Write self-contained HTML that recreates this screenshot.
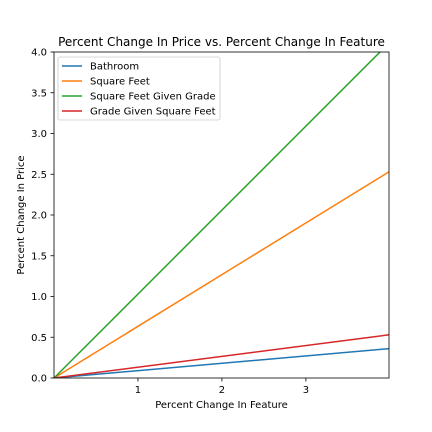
<!DOCTYPE html>
<html><head><meta charset="utf-8"><style>
body{margin:0;background:#fff;}
svg{display:block;font-family:"DejaVu Sans","Liberation Sans",sans-serif;}
</style></head><body>
<svg id="chart" width="432" height="432">
<rect x="0" y="0" width="432" height="432" fill="#fff"/>
<defs><clipPath id="clip"><rect x="54" y="52" width="335" height="326"/></clipPath></defs>
<g id="lines" clip-path="url(#clip)"></g>
<rect x="54" y="52" width="335" height="326" fill="none" stroke="#000" stroke-width="0.8"/>
<g id="xticks"></g><g id="yticks"></g>
<text x="221.5" y="46" font-size="12" text-anchor="middle">Percent Change In Price vs. Percent Change In Feature</text>
<text x="221.5" y="408" font-size="10" text-anchor="middle">Percent Change In Feature</text>
<text x="24" y="215" font-size="10" text-anchor="middle" transform="rotate(-90 24 215)">Percent Change In Price</text>
<g id="legend">
<rect x="58" y="57" width="162" height="63" rx="2" fill="#fff" stroke="#ccc" stroke-width="0.8"/>
</g>
</svg>
<script>
const seriesNames=["Bathroom","Square Feet","Square Feet Given Grade","Grade Given Square Feet"];
const colors=["#1f77b4","#ff7f0e","#2ca02c","#d62728"];
const xValues=[0,3.99];
const bathroom=[0,0.36];
const squareFeet=[0,2.53];
const sqftGivenGrade=[0,4.11];
const gradeGivenSqft=[0,0.53];
const xTicks=[1,2,3];
const yTicks=[0,0.5,1,1.5,2,2.5,3,3.5,4];
const yTickLabels=["0.0","0.5","1.0","1.5","2.0","2.5","3.0","3.5","4.0"];
const allSeries=[bathroom,squareFeet,sqftGivenGrade,gradeGivenSqft];
const NS="http://www.w3.org/2000/svg";
function xs(v){return 54+v*(335/3.99);}
function ys(v){return 378-v*(326/4);}
function mk(t,a,p){const e=document.createElementNS(NS,t);for(const k in a)e.setAttribute(k,a[k]);p.appendChild(e);return e;}
const lines=document.getElementById('lines');
allSeries.forEach((s,i)=>{
const pts=s.map((v,j)=>xs(xValues[j])+","+ys(v)).join(" ");
const pl=mk('polyline',{points:pts,fill:'none',stroke:colors[i],'stroke-width':1.5},lines);


});
const xg=document.getElementById('xticks');
xTicks.forEach(t=>{
const x=xs(t);
mk('line',{x1:x,x2:x,y1:378,y2:381.5,stroke:'#000','stroke-width':0.8},xg);
const tx=mk('text',{x:x,y:393,'font-size':10,'text-anchor':'middle'},xg);tx.textContent=t;


});
const yg=document.getElementById('yticks');
yTicks.forEach((t,i)=>{
const y=ys(t);
mk('line',{x1:50.5,x2:54,y1:y,y2:y,stroke:'#000','stroke-width':0.8},yg);
const tx=mk('text',{x:47,y:y+3.5,'font-size':10,'text-anchor':'end'},yg);tx.textContent=yTickLabels[i];


});
const lg=document.getElementById('legend');
seriesNames.forEach((n,i)=>{
const y=66+i*15;
mk('line',{x1:62,x2:82,y1:y,y2:y,stroke:colors[i],'stroke-width':1.5},lg);
const tx=mk('text',{x:90,y:y+3.5,'font-size':10},lg);tx.textContent=n;


});
</script>
</body></html>
